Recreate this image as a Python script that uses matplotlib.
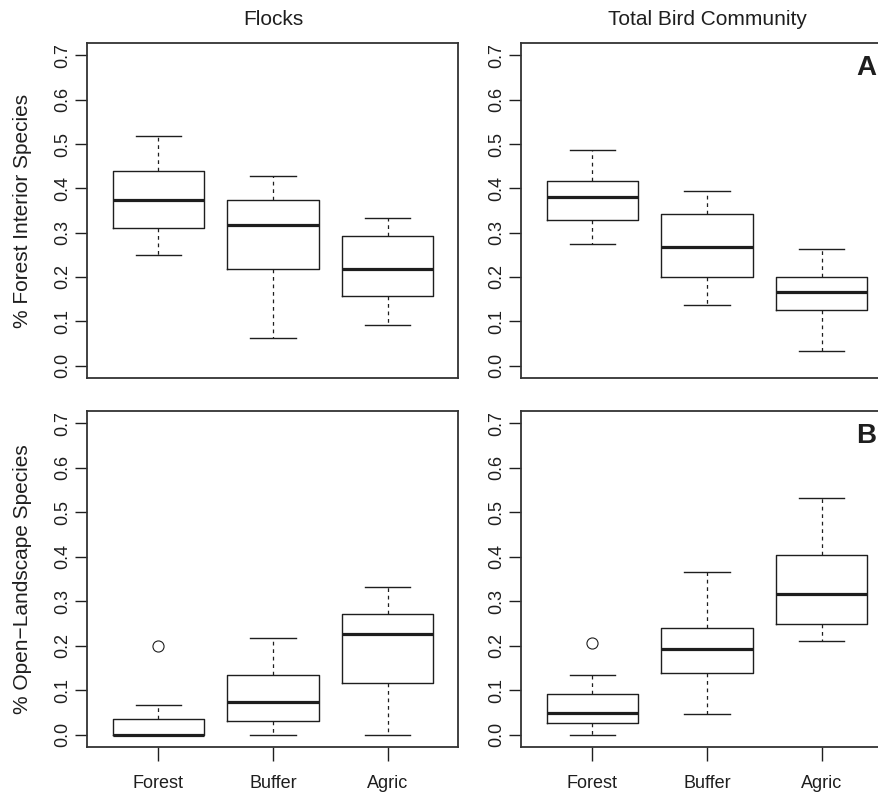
import matplotlib
matplotlib.use("Agg")
import matplotlib.pyplot as plt

plt.rcParams['font.family'] = ['Liberation Sans', 'DejaVu Sans']

# categorias del eje x
grupos = ["Forest", "Buffer", "Agric"]

# resumen de cada caja: bigote inferior, Q1, mediana, Q3, bigote superior
interior_flocks = [[0.249, 0.310, 0.374, 0.440, 0.518],
                   [0.062, 0.218, 0.317, 0.374, 0.428],
                   [0.091, 0.158, 0.218, 0.293, 0.332]]
interior_total = [[0.275, 0.328, 0.380, 0.417, 0.486],
                  [0.136, 0.200, 0.267, 0.341, 0.395],
                  [0.033, 0.125, 0.165, 0.199, 0.264]]
abierto_flocks = [[0.000, 0.000, 0.000, 0.035, 0.067],
                  [0.000, 0.031, 0.0735, 0.135, 0.217],
                  [0.000, 0.117, 0.227, 0.272, 0.332]]
abierto_total = [[0.000, 0.027, 0.0495, 0.0915, 0.134],
                 [0.0465, 0.1395, 0.192, 0.240, 0.365],
                 [0.211, 0.249, 0.317, 0.404, 0.533]]

# valores atipicos por grupo
atipicos_interior_flocks = [[], [], []]
atipicos_interior_total = [[], [], []]
atipicos_abierto_flocks = [[0.200], [], []]
atipicos_abierto_total = [[0.206], [], []]

yticks = [0.0, 0.1, 0.2, 0.3, 0.4, 0.5, 0.6, 0.7]

W, H = 879, 796
fig = plt.figure(figsize=(W / 100, H / 100), dpi=100)

color = "#1e1e1e"


def panel(rect, resumen, atipicos, titulo=None, ylabel=None, letra=None, xlabels=False):
    x0, y_top, x1, y_bot = rect
    ax = fig.add_axes([x0 / W, 1 - y_bot / H, (x1 - x0) / W, (y_bot - y_top) / H])
    stats = [dict(whislo=s[0], q1=s[1], med=s[2], q3=s[3], whishi=s[4], fliers=f)
             for s, f in zip(resumen, atipicos)]
    ax.bxp(stats, positions=[1, 2, 3], widths=0.8, capwidths=0.4,
           boxprops=dict(color=color, linewidth=1.0),
           medianprops=dict(color=color, linewidth=2.3, solid_capstyle='butt'),
           whiskerprops=dict(color=color, linewidth=0.9, linestyle=(0, (3, 3))),
           capprops=dict(color=color, linewidth=1.0),
           flierprops=dict(marker='o', markerfacecolor='none', markeredgecolor=color,
                           markersize=8, markeredgewidth=0.8))
    ax.set_xlim(0.38, 3.62)
    ax.set_ylim(-0.028, 0.728)
    ax.set_yticks(yticks)
    ax.set_yticklabels([f"{v:.1f}" for v in yticks], rotation=90, va='center', fontsize=13)
    ax.tick_params(axis='y', length=9, width=1.0, pad=3, colors=color)
    if xlabels:
        ax.set_xticks([1, 2, 3])
        ax.set_xticklabels(grupos, fontsize=13)
        ax.tick_params(axis='x', length=10, width=1.0, pad=10, colors=color)
    else:
        ax.set_xticks([])
    for s in ax.spines.values():
        s.set_color("#333333")
        s.set_linewidth(1.3)
    if titulo:
        ax.set_title(titulo, fontsize=15, pad=13, color=color)
    if ylabel:
        ax.set_ylabel(ylabel, fontsize=15, color=color)
        ax.yaxis.set_label_coords(-0.150, 0.5)
    if letra:
        ax.text(0.9555, 0.925, letra, transform=ax.transAxes, ha='right', va='center',
                fontsize=20, fontweight='bold', color=color)
    return ax


panel((87.5, 43, 458.5, 378), interior_flocks, atipicos_interior_flocks,
      titulo="Flocks", ylabel="% Forest Interior Species")
panel((521.5, 43, 892.5, 378), interior_total, atipicos_interior_total,
      titulo="Total Bird Community", letra="A")
panel((87.5, 411, 458.5, 747), abierto_flocks, atipicos_abierto_flocks,
      ylabel="% Open\u2212Landscape Species", xlabels=True)
panel((521.5, 411, 892.5, 747), abierto_total, atipicos_abierto_total,
      letra="B", xlabels=True)

fig.savefig("out.png", dpi=100)
